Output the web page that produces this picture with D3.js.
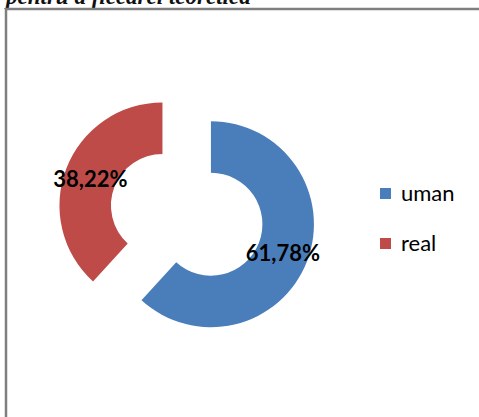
<!DOCTYPE html>
<html>
<head>
<meta charset="utf-8">
<script src="https://cdn.jsdelivr.net/npm/d3@7"></script>
<style>
  html, body { margin: 0; padding: 0; background: #fff; }
  svg { display: block; }
</style>
</head>
<body>
<svg id="chart" width="479" height="417"></svg>
<script>
const categories = ["uman", "real"];
const values = [61.78, 38.22];
const labels = ["61,78%", "38,22%"];
const colors = ["#4A7EBB", "#BE4B48"];
const titleText = "pentru a fiecărei teoretică";

const svg = d3.select("#chart");

// cropped title above the frame
svg.append("text")
  .attr("x", 6).attr("y", 4)
  .attr("font-family", "'Liberation Serif', serif")
  .attr("font-style", "italic").attr("font-weight", "bold")
  .attr("font-size", 23).attr("fill", "#111")
  .text(titleText);

// frame (top and left borders)
svg.append("line").attr("x1", 5).attr("x2", 479).attr("y1", 9).attr("y2", 9)
  .attr("stroke", "#7f7f7f").attr("stroke-width", 2.5);
svg.append("line").attr("x1", 6).attr("x2", 6).attr("y1", 8).attr("y2", 417)
  .attr("stroke", "#7f7f7f").attr("stroke-width", 2.5);

const cx = 186.7, cy = 214.8;
const R = 103, r = 51.5, explode = 26;

const pie = d3.pie().sort(null).value(d => d)
  .startAngle(0).endAngle(2 * Math.PI);
const arcs = pie(values);
const arc = d3.arc().innerRadius(r).outerRadius(R);

const g = svg.append("g").attr("transform", `translate(${cx},${cy})`);

arcs.forEach((a, i) => {
  const mid = (a.startAngle + a.endAngle) / 2;
  const ox = Math.sin(mid) * explode, oy = -Math.cos(mid) * explode;
  const sg = g.append("g").attr("transform", `translate(${ox},${oy})`);
  sg.append("path").attr("d", arc(a)).attr("fill", colors[i]);
  const c = arc.centroid(a);
  sg.append("text")
    .attr("x", c[0]).attr("y", c[1]).attr("dy", "0.42em")
    .attr("text-anchor", "middle")
    .attr("font-family", "Lato, sans-serif").attr("font-weight", "bold")
    .attr("font-size", 22).attr("fill", "#000")
    .text(labels[i]);
});

// legend
const legend = svg.append("g");
categories.forEach((c, i) => {
  const y0 = 188 + i * 50;
  legend.append("rect").attr("x", 380).attr("y", y0)
    .attr("width", 11).attr("height", 11).attr("fill", colors[i]);
  legend.append("text").attr("x", 401).attr("y", y0 + 12.5)
    .attr("font-family", "Lato, sans-serif").attr("font-size", 22)
    .attr("fill", "#000").text(c);
});
</script>
</body>
</html>
